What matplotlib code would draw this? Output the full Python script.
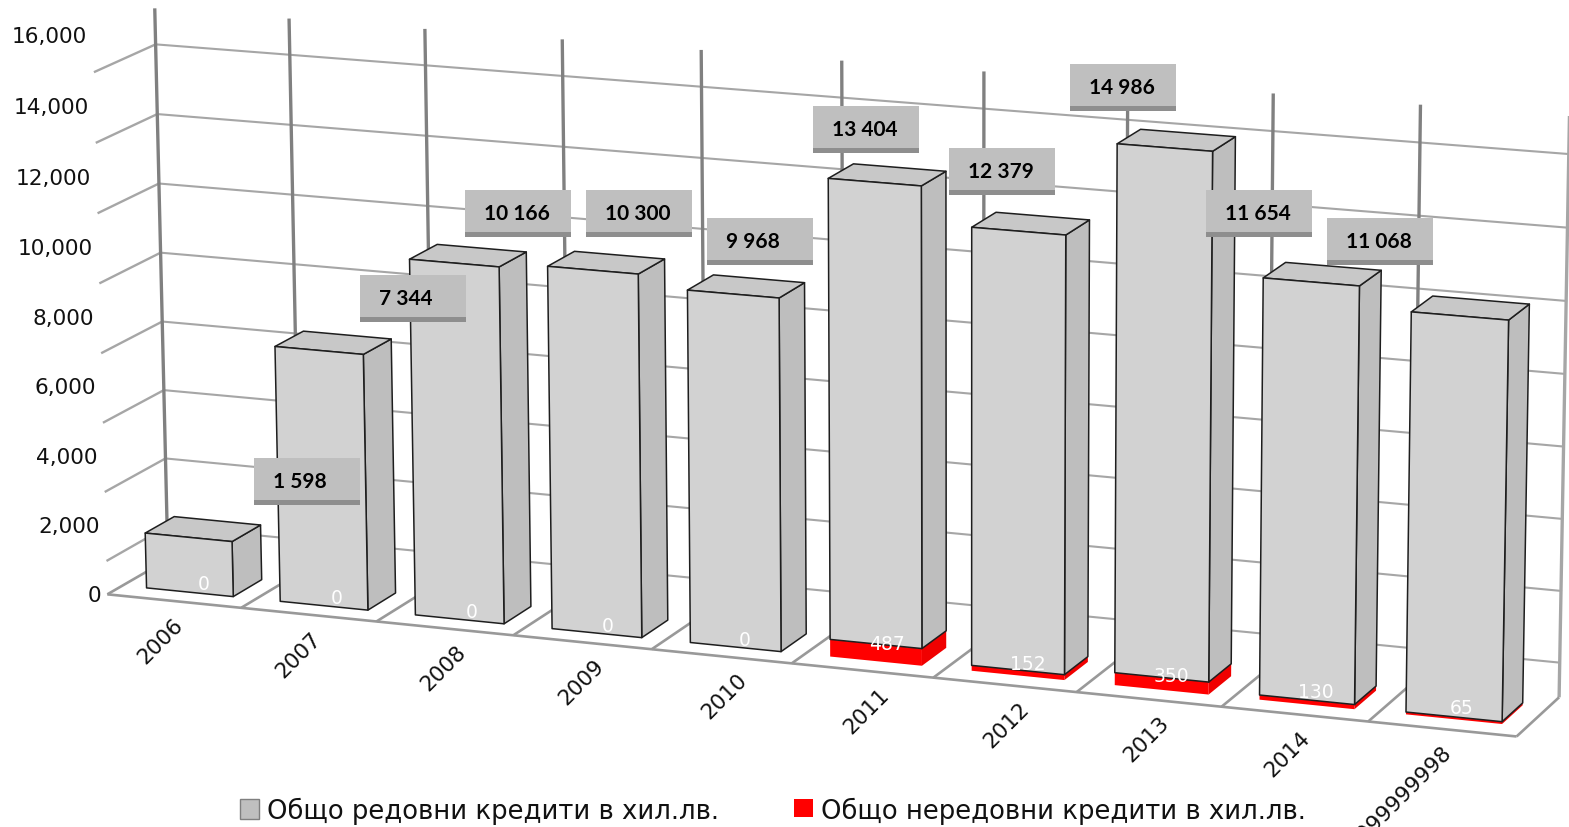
import numpy as np
import matplotlib
matplotlib.use('Agg')
import matplotlib.pyplot as plt
from matplotlib.patches import Polygon, Rectangle

# data
years = ['2006', '2007', '2008', '2009', '2010', '2011', '2012', '2013', '2014', '2014.999999998']
regular = [1598, 7344, 10166, 10300, 9968, 13404, 12379, 14986, 11654, 11068]
overdue = [0, 0, 0, 0, 0, 487, 152, 350, 130, 65]
regular_labels = ['1 598', '7 344', '10 166', '10 300', '9 968', '13 404', '12 379', '14 986', '11 654', '11 068']
ticks = [0, 2000, 4000, 6000, 8000, 10000, 12000, 14000, 16000]
legend_names = ['Общо редовни кредити в хил.лв.', 'Общо нередовни кредити в хил.лв.']

# label placement in pixels
box_left = [254, 360, 465, 586, 707, 813, 949, 1070, 1206, 1327]
box_top = [458, 275, 190, 190, 218, 106, 148, 64, 190, 218]
small_x = [204, 337, 472, 608, 745, 887, 1028, 1171, 1316, 1462]
small_y = [583, 597, 610, 624, 638, 643, 662, 674, 691, 707]
year_dx = [-2, 1, 10, 10, 14, 16, 13, 9, 4, -2]

# camera fit: (category, value in thousands, depth) -> pixel
cal_world = [(0, 0, 0), (1, 0, 0), (2, 0, 0), (5, 0, 0), (6, 0, 0), (7, 0, 0), (8, 0, 0), (9, 0, 0), (10, 0, 0),
             (0, 16, 0), (0, 0, 1), (10, 0, 1), (0, 16, 1), (1, 16, 1), (2, 16, 1), (3, 16, 1), (4, 16, 1),
             (5, 16, 1), (6, 16, 1), (8, 16, 1), (9, 16, 1), (10, 16, 1)]
cal_px = [(107, 594), (241, 608), (377, 622), (792, 663), (933, 677), (1076, 692), (1222, 707), (1368, 721), (1517, 737),
          (93, 36), (168, 560), (1559, 697), (155, 8), (290, 18), (424, 29), (562, 40), (701, 50),
          (842, 60), (983, 71), (1274, 93), (1421, 105), (1569, 117)]
rows = []
for (a, b, c), (u, v) in zip(cal_world, cal_px):
    rows.append([a, b, c, 1, 0, 0, 0, 0, -u * a, -u * b, -u * c, -u])
    rows.append([0, 0, 0, 0, a, b, c, 1, -v * a, -v * b, -v * c, -v])
cam = np.linalg.svd(np.array(rows, dtype=float))[2][-1].reshape(3, 4)


def project(cat, val, depth):
    h = cam @ np.array([cat, val / 1000, depth, 1.0])
    return h[0] / h[2], h[1] / h[2]


def line(p, q, color, lw, z=1):
    ax.plot([p[0], q[0]], [p[1], q[1]], color=color, lw=lw, zorder=z, solid_capstyle='butt')


fig = plt.figure(figsize=(15.69, 8.27), dpi=100)
ax = fig.add_axes([0, 0, 1, 1])
ax.set_xlim(0, 1569)
ax.set_ylim(827, 0)
ax.axis('off')

grid_color = '#A6A6A6'
wall_color = '#808080'
grid_shift = 1030  # horizontal gridlines sit lower than the value scale

# back wall and side wings
for t in ticks[1:]:
    v = t - grid_shift
    line(project(0, v, 0), project(0, v, 1), grid_color, 1.7)
    pts = [project(c, v, 1) for c in range(11)]
    ax.plot([p[0] for p in pts], [p[1] for p in pts], color=grid_color, lw=1.5, zorder=1)
for c in range(11):
    line(project(c, 0, 1), project(c, 16000, 1), wall_color if c < 10 else grid_color, 2.4, z=1.5)

# floor
floor_color = '#999999'
line(project(0, 0, 0), project(10, 0, 0), floor_color, 1.9, z=2)
line(project(0, 0, 0), project(0, 0, 1), floor_color, 1.9, z=2)
line(project(10, 0, 0), project(10, 0, 1), floor_color, 1.9, z=2)
for c in range(1, 10):
    line(project(c, 0, 0), project(c, 0, 1), floor_color, 1.9, z=2)

# bars
x0, x1 = 0.18, 0.83
z0, z1 = 0.25, 0.73
edge = '#1E1E1E'


def box(i, lo, hi, front, side, top, ec, lw, zorder):
    fl = project(i + x0, lo, z0)
    fr = project(i + x1, lo, z0)
    br = project(i + x1, lo, z1)
    tfl = project(i + x0, hi, z0)
    tfr = project(i + x1, hi, z0)
    tbr = project(i + x1, hi, z1)
    tbl = project(i + x0, hi, z1)
    ax.add_patch(Polygon([br, fr, tfr, tbr], fc=side, ec=ec, lw=lw, joinstyle='round', zorder=zorder))
    ax.add_patch(Polygon([tfl, tfr, tbr, tbl], fc=top, ec=ec, lw=lw, joinstyle='round', zorder=zorder))
    ax.add_patch(Polygon([fl, fr, tfr, tfl], fc=front, ec=ec, lw=lw, joinstyle='round', zorder=zorder))


for i in range(len(years)):
    zo = 3 + i * 0.01
    if overdue[i] > 0:
        box(i, 0, overdue[i], '#FF0000', '#F00000', '#FF0000', 'none', 0, zo)
    box(i, overdue[i], regular[i], '#D2D2D2', '#BEBEBE', '#C8C8C8', edge, 1.1, zo + 0.001)

# value axis text
for t in ticks:
    px, py = project(0, t, 0)
    ax.text(px - 6, py + 1.5, f'{t:,}', ha='right', va='center', fontsize=15.6, color='#111111',
            family='DejaVu Sans', zorder=6)

# category text
for i, y in enumerate(years):
    px, py = project(i + 0.5, 0, 0)
    ax.text(px + 1 + year_dx[i], py + 14, y, ha='right', va='top', rotation=45, rotation_mode='anchor',
            fontsize=15.6, color='#111111', family='DejaVu Sans', zorder=6)

# data labels
for i, s in enumerate(regular_labels):
    ax.add_patch(Rectangle((box_left[i], box_top[i]), 106, 47, fc='#BFBFBF', ec='none', zorder=7))
    ax.add_patch(Rectangle((box_left[i], box_top[i] + 42), 106, 5, fc='#8E8E8E', ec='none', zorder=7.1))
    ax.text(box_left[i] + 19, box_top[i] + 24, s, ha='left', va='center', fontsize=15, fontweight='bold',
            family='Lato', color='black', zorder=8)
    ax.text(small_x[i], small_y[i] + 2, str(overdue[i]), ha='center', va='center', fontsize=13.5,
            family='DejaVu Sans', color='white', zorder=8)

# legend
ax.add_patch(Rectangle((240, 799), 19, 20, fc='#BFBFBF', ec='#7F7F7F', lw=1, zorder=8))
ax.text(267, 811, legend_names[0], ha='left', va='center', fontsize=18.6, family='DejaVu Sans', color='#111111')
ax.add_patch(Rectangle((794, 799), 19, 18, fc='#FF0000', ec='none', zorder=8))
ax.text(821, 811, legend_names[1], ha='left', va='center', fontsize=18.6, family='DejaVu Sans', color='#111111')

fig.savefig('out.png', dpi=100)
